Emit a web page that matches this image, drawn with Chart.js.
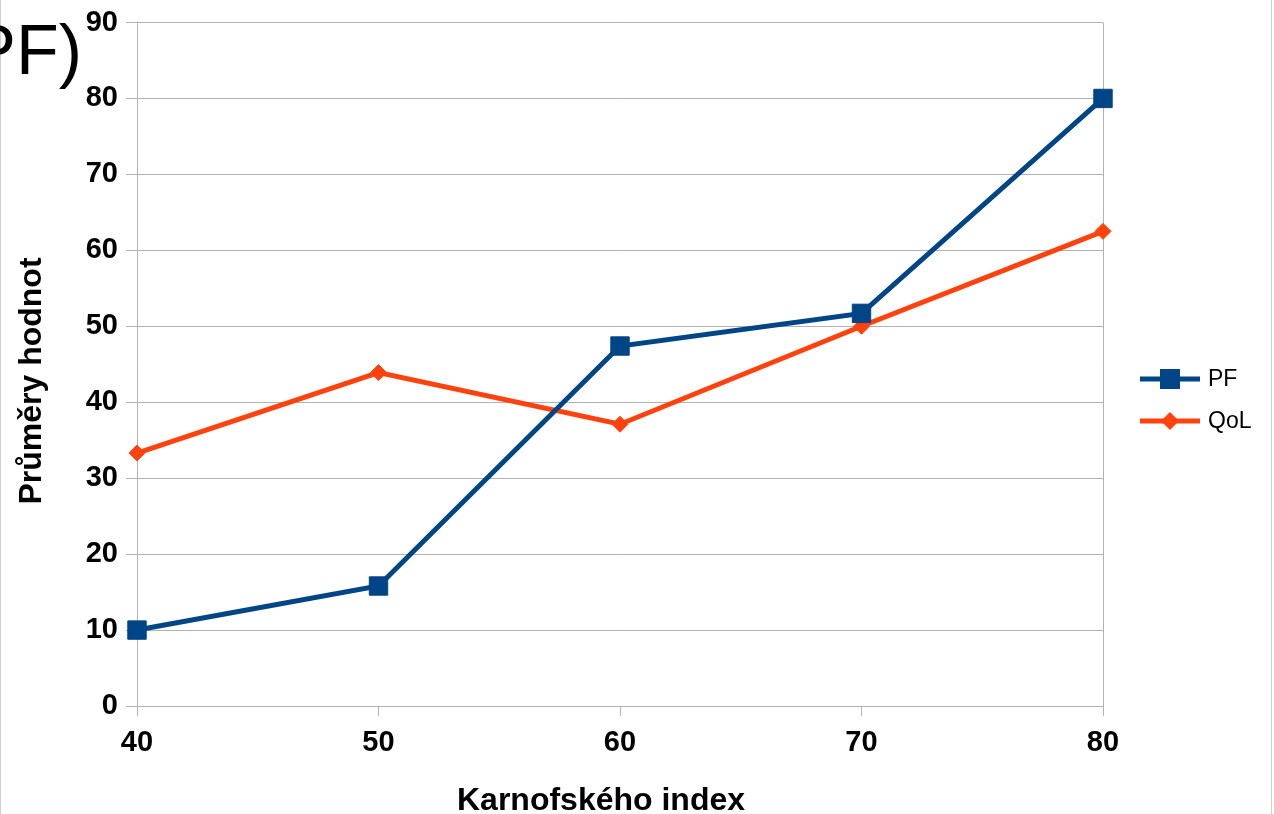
<!DOCTYPE html>
<html>
<head>
<meta charset="utf-8">
<script src="https://cdn.jsdelivr.net/npm/chart.js@4.4.1/dist/chart.umd.min.js"></script>
<style>
  html, body { margin: 0; padding: 0; background: #fff; overflow: hidden; }
  #wrap { position: relative; width: 1274px; height: 814px; }
  #wrap:before { content: ''; position: absolute; left: 0; top: 0; bottom: 0; width: 1px; background: #d0d0d0; }
  #wrap:after { content: ''; position: absolute; left: 1271px; top: 0; bottom: 0; width: 1px; background: #d0d0d0; }
  #cut { position: absolute; right: 1192px; top: 10px; font: 70px "Liberation Sans", Arial, sans-serif; color: #000; white-space: nowrap; }
</style>
</head>
<body>
<div id="wrap">
  <canvas id="chart" width="1274" height="814"></canvas>
  <div id="cut">(PF)</div>
</div>
<script>
const karnofsky = [40, 50, 60, 70, 80];
const pfValues = [10, 15.8, 47.4, 51.7, 80];
const qolValues = [33.3, 43.9, 37.1, 50, 62.5];
const yTicks = [0, 90, 10];

const seriesNames = ['PF', 'QoL'];
const xTitle = 'Karnofského index';
const yTitle = 'Průměry hodnot';
const colors = ['#004586', '#ff420e'];
const gridColor = '#b3b3b3';
const font = '"Liberation Sans", Arial, sans-serif';

const toPoints = vals => karnofsky.map((k, i) => ({ x: k, y: vals[i] }));

const extras = {
  id: 'extras',
  beforeDatasetsDraw(chart) {
    const ctx = chart.ctx;
    const area = chart.chartArea;
    ctx.save();
    // right frame line
    ctx.strokeStyle = gridColor;
    ctx.lineWidth = 1;
    ctx.beginPath();
    ctx.moveTo(Math.round(area.right) + 0.5, area.top);
    ctx.lineTo(Math.round(area.right) + 0.5, area.bottom);
    ctx.stroke();
    ctx.restore();
  },
  afterDraw(chart) {
    const ctx = chart.ctx;
    ctx.save();
    // axis titles
    ctx.fillStyle = '#000';
    ctx.font = 'bold 32px ' + font;
    ctx.textAlign = 'center';
    ctx.textBaseline = 'middle';
    ctx.fillText(xTitle, 601, 801);
    ctx.translate(32, 381);
    ctx.rotate(-Math.PI / 2);
    ctx.fillText(yTitle, 0, 0);
    ctx.setTransform(1, 0, 0, 1, 0, 0);

    // legend: line with marker
    const ys = [379, 421];
    chart.data.datasets.forEach((ds, i) => {
      const y = ys[i];
      ctx.strokeStyle = ds.borderColor;
      ctx.lineWidth = 5;
      ctx.beginPath();
      ctx.moveTo(1140, y);
      ctx.lineTo(1200, y);
      ctx.stroke();
      ctx.fillStyle = ds.borderColor;
      ctx.beginPath();
      if (i === 0) {
        ctx.rect(1160, y - 10, 20, 20);
      } else {
        ctx.moveTo(1170, y - 9);
        ctx.lineTo(1179, y);
        ctx.lineTo(1170, y + 9);
        ctx.lineTo(1161, y);
        ctx.closePath();
      }
      ctx.fill();
      ctx.fillStyle = '#000';
      ctx.font = '23px ' + font;
      ctx.textAlign = 'left';
      ctx.textBaseline = 'middle';
      ctx.fillText(ds.label, 1208, y + 1);
    });
    ctx.restore();
  }
};

new Chart(document.getElementById('chart'), {
  type: 'line',
  data: {
    datasets: [
      {
        label: seriesNames[0],
        data: toPoints(pfValues),
        borderColor: colors[0],
        backgroundColor: colors[0],
        borderWidth: 5,
        pointStyle: 'rect',
        pointRadius: 13,
        pointBorderWidth: 1,
        tension: 0,
        clip: false
      },
      {
        label: seriesNames[1],
        data: toPoints(qolValues),
        borderColor: colors[1],
        backgroundColor: colors[1],
        borderWidth: 5,
        pointStyle: 'rectRot',
        pointRadius: 8,
        pointBorderWidth: 1,
        tension: 0,
        clip: false
      }
    ]
  },
  options: {
    responsive: false,
    animation: false,
    layout: { padding: { top: 4, right: 171, left: 0, bottom: 0 } },
    plugins: {
      legend: { display: false },
      tooltip: { enabled: false }
    },
    scales: {
      x: {
        type: 'linear',
        min: karnofsky[0],
        max: karnofsky[karnofsky.length - 1],
        afterFit: s => { s.height = 108; },
        ticks: {
          stepSize: 10,
          color: '#000',
          padding: 10,
          font: { family: font, size: 29, weight: 'bold' }
        },
        grid: { drawOnChartArea: false, color: gridColor, tickLength: 10 },
        border: { color: gridColor }
      },
      y: {
        min: yTicks[0],
        max: yTicks[1],
        afterFit: s => { s.width = 137; },
        ticks: {
          stepSize: yTicks[2],
          color: '#000',
          padding: 8,
          font: { family: font, size: 29, weight: 'bold', lineHeight: 1 }
        },
        grid: { color: gridColor, tickLength: 11 },
        border: { color: gridColor }
      }
    }
  },
  plugins: [extras]
});
</script>
</body>
</html>
